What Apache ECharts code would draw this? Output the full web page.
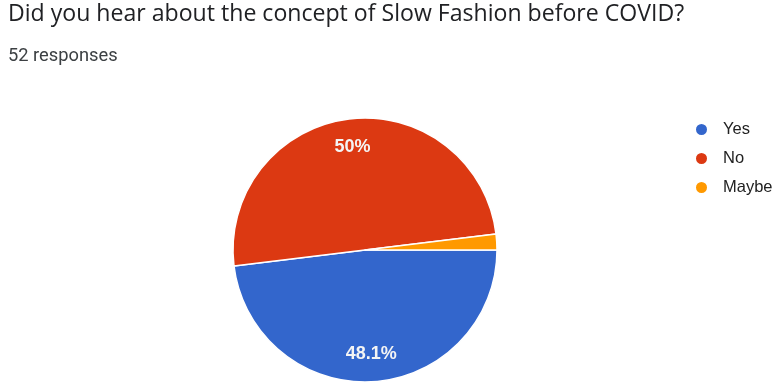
<!DOCTYPE html>
<html>
<head>
<meta charset="utf-8">
<script src="https://cdn.jsdelivr.net/npm/echarts@6/dist/echarts.min.js"></script>
<style>
html,body{margin:0;padding:0;background:#fff;}
#chart{width:773px;height:385px;}
</style>
</head>
<body>
<div id="chart"></div>
<script>
var categories = ['Yes', 'No', 'Maybe'];
var counts = [25, 26, 1];
var colors = ['#3366cc', '#dc3912', '#ff9900'];
var titleText = 'Did you hear about the concept of Slow Fashion before COVID?';
var subtitleText = '52 responses';

var total = counts.reduce(function (a, b) { return a + b; }, 0);
var data = categories.map(function (c, i) {
  return { name: c, value: counts[i], itemStyle: { color: colors[i] } };
});
var labelData = categories.map(function (c, i) {
  var pct = counts[i] / total * 100;
  return { name: c, value: counts[i], label: { show: pct >= 5 } };
});

var chart = echarts.init(document.getElementById('chart'), null, { renderer: 'canvas' });
chart.setOption({
  animation: false,
  backgroundColor: '#ffffff',
  title: [
    { text: titleText, left: 8, top: 0, padding: 0,
      textStyle: { fontFamily: 'Open Sans', fontSize: 23.1, fontWeight: 'normal', color: '#202124', lineHeight: 29 } },
    { text: subtitleText, left: 8, top: 46, padding: 0,
      textStyle: { fontFamily: 'Roboto', fontSize: 18.3, fontWeight: 'normal', color: '#3c4043', lineHeight: 20 } }
  ],
  legend: {
    orient: 'vertical', left: 694, top: 121, padding: 0,
    icon: 'circle', itemWidth: 13, itemHeight: 13, itemGap: 12,
    data: categories,
    textStyle: { fontFamily: 'Liberation Sans', fontSize: 16.5, color: '#222222', lineHeight: 16, padding: [0, 0, 0, 10] }
  },
  color: colors,
  series: [
    {
      type: 'pie', center: [365, 250], radius: [0, 132],
      startAngle: 0, clockwise: true,
      label: { show: false }, labelLine: { show: false },
      itemStyle: { borderColor: '#ffffff', borderWidth: 1.5 },
      emphasis: { disabled: true },
      data: data
    },
    {
      type: 'pie', center: [365, 250], radius: [70, 132],
      startAngle: 0, clockwise: true, silent: true,
      legendHoverLink: false,
      itemStyle: { color: 'rgba(0,0,0,0)' },
      emphasis: { disabled: true },
      labelLine: { show: false },
      label: {
        position: 'inside', color: '#f4f4f4', fontFamily: 'Liberation Sans',
        fontSize: 18, fontWeight: 'bold',
        formatter: function (p) {
          var v = (p.value / total * 100).toFixed(1);
          if (v.slice(-2) === '.0') v = v.slice(0, -2);
          return v + '%';
        }
      },
      data: labelData
    }
  ]
});
</script>
</body>
</html>
